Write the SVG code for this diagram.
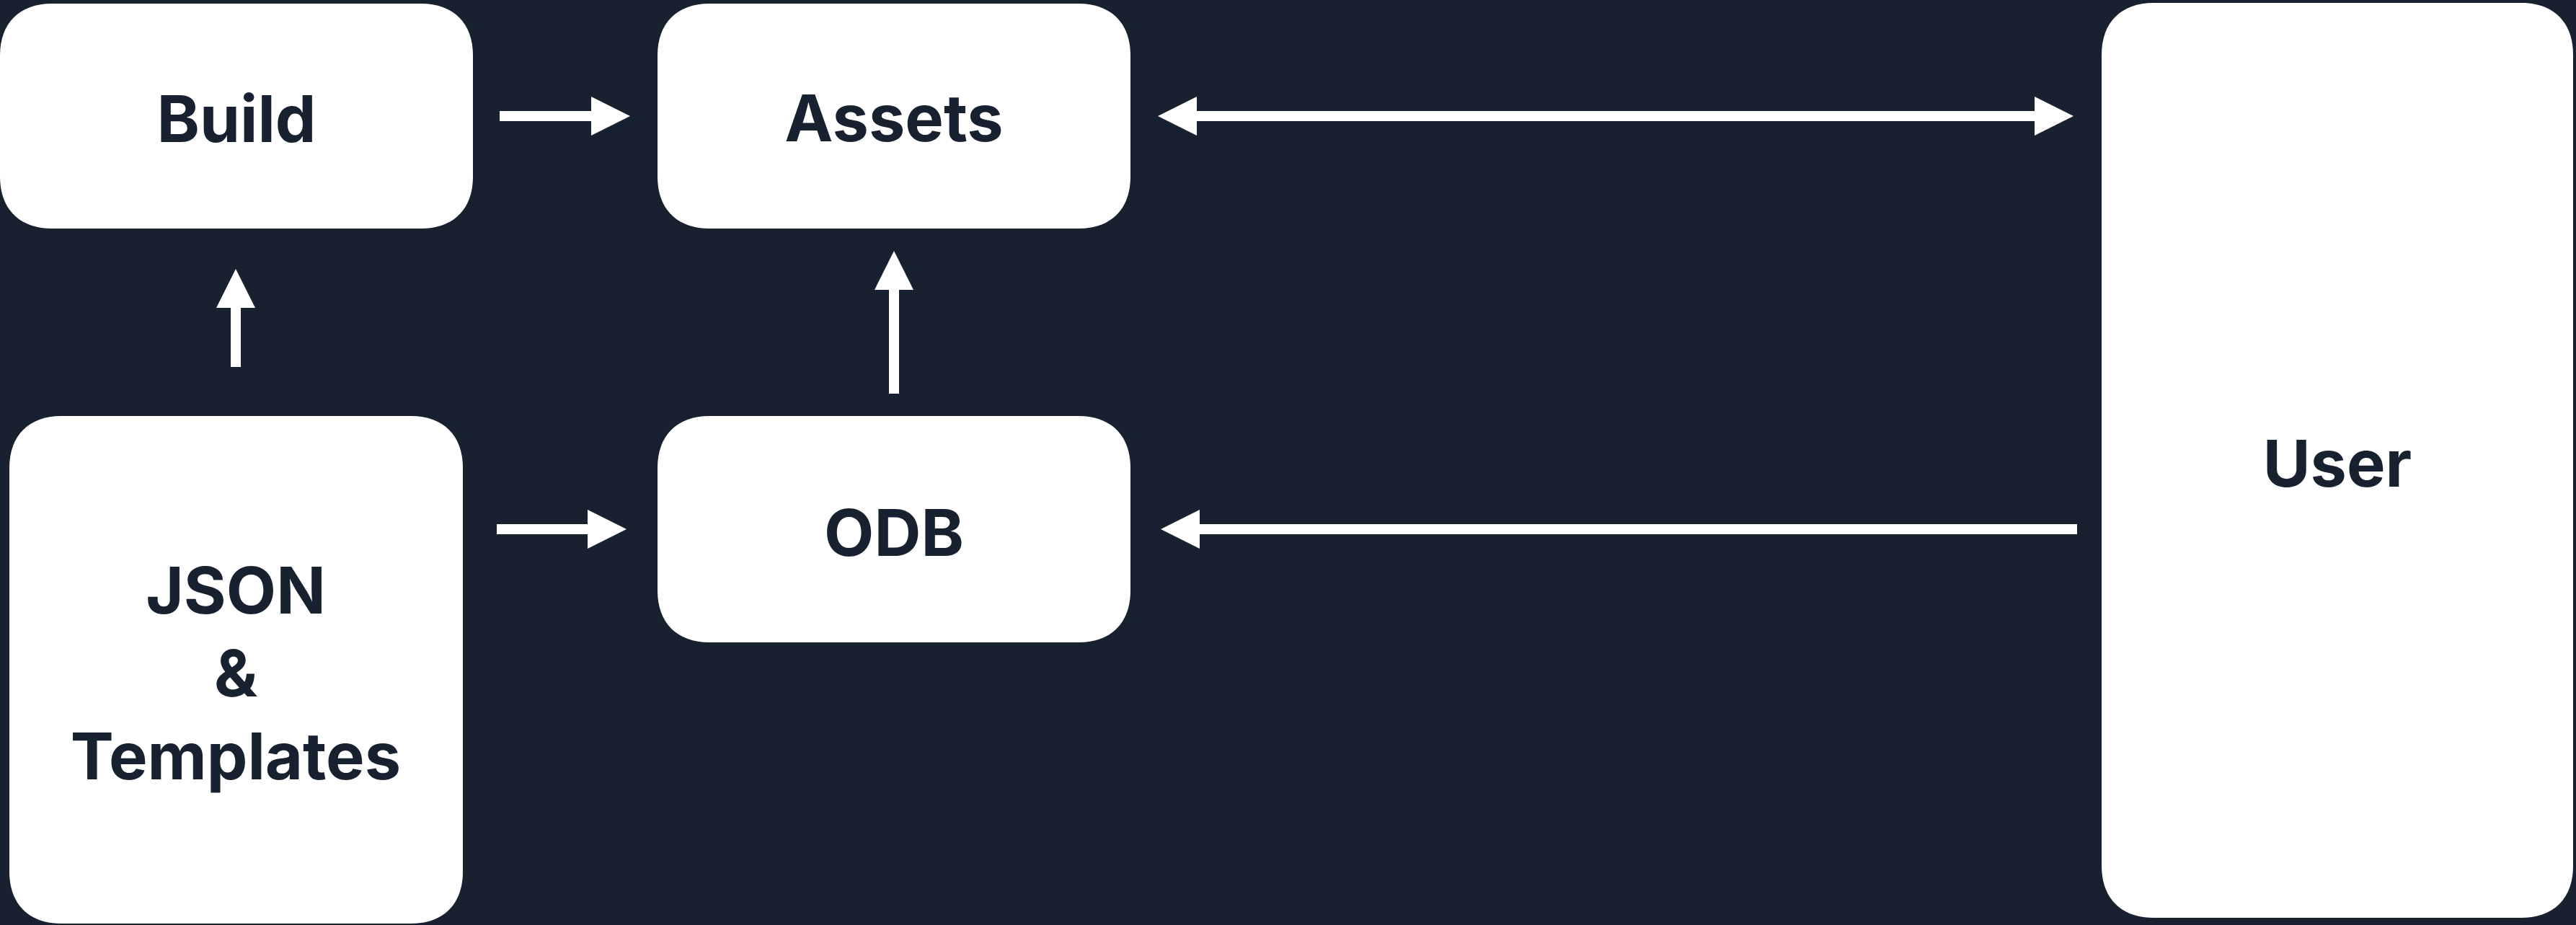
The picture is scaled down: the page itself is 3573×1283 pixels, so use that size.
<svg xmlns="http://www.w3.org/2000/svg" width="3573" height="1283" viewBox="0 0 3573 1283">
<style>
.node{fill:#ffffff}
.lbl{font-family:Inter,"Liberation Sans",sans-serif;font-weight:700;font-size:90px;fill:#172130;text-anchor:middle}
.edge{stroke:#ffffff;stroke-width:14;fill:none}
</style>
<defs>
<marker id="head" viewBox="0 0 54 54" refX="0" refY="27" markerWidth="54" markerHeight="54" markerUnits="userSpaceOnUse" orient="auto-start-reverse">
<path d="M0,0 L54,27 L0,54 Z" fill="#ffffff"/>
</marker>
</defs>
<rect x="0" y="0" width="3573" height="1283" fill="#172130"/>
<g id="build"><path class="node" d="M72,5 H584 C629,5 656,32 656,77 V245 C656,290 629,317 584,317 H72 C27,317 0,290 0,245 V77 C0,32 27,5 72,5 Z"/><text class="lbl" x="328" y="197">Build</text></g>
<g id="assets"><path class="node" d="M984,5 H1496 C1541,5 1568,32 1568,77 V245 C1568,290 1541,317 1496,317 H984 C939,317 912,290 912,245 V77 C912,32 939,5 984,5 Z"/><text class="lbl" x="1240" y="196">Assets</text></g>
<g id="json"><path class="node" d="M85,577 H570 C615,577 642,604 642,649 V1209 C642,1254 615,1281 570,1281 H85 C40,1281 13,1254 13,1209 V649 C13,604 40,577 85,577 Z"/><text class="lbl" x="327" y="851">JSON</text><text class="lbl" x="327" y="966">&amp;</text><text class="lbl" x="327" y="1081">Templates</text></g>
<g id="odb"><path class="node" d="M984,577 H1496 C1541,577 1568,604 1568,649 V819 C1568,864 1541,891 1496,891 H984 C939,891 912,864 912,819 V649 C912,604 939,577 984,577 Z"/><text class="lbl" x="1240" y="771">ODB</text></g>
<g id="user"><path class="node" d="M2987,4 H3497 C3542,4 3569,31 3569,76 V1201 C3569,1246 3542,1273 3497,1273 H2987 C2942,1273 2915,1246 2915,1201 V76 C2915,31 2942,4 2987,4 Z"/><text class="lbl" x="3242" y="675">User</text></g>
<g id="connectors">
<line class="edge" x1="693" y1="161" x2="820" y2="161" marker-end="url(#head)"/>
<line class="edge" x1="327" y1="509" x2="327" y2="427" marker-end="url(#head)"/>
<line class="edge" x1="1240" y1="546" x2="1240" y2="402" marker-end="url(#head)"/>
<line class="edge" x1="689" y1="734" x2="815" y2="734" marker-end="url(#head)"/>
<line class="edge" x1="1660" y1="161" x2="2822" y2="161" marker-start="url(#head)" marker-end="url(#head)"/>
<line class="edge" x1="2881" y1="734" x2="1664" y2="734" marker-end="url(#head)"/>
</g>
</svg>
